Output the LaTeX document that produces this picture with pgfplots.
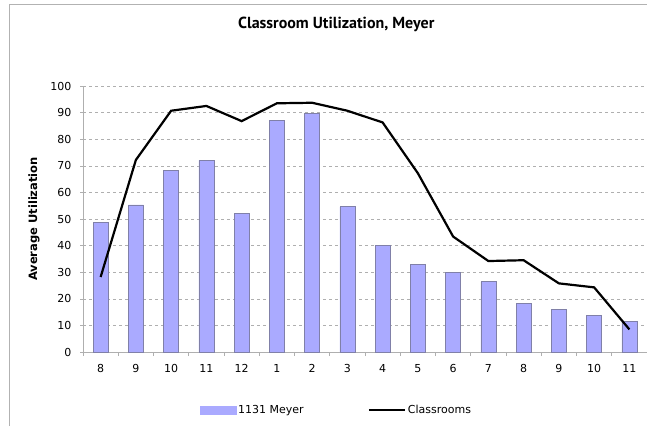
\documentclass[border=0pt]{standalone}
\usepackage{fontspec}
\setmainfont{DejaVu Sans}
\newfontfamily\ptsans{PT Sans}
\usepackage{pgfplots}
\pgfplotsset{compat=1.18}
\definecolor{barfill}{RGB}{170,170,255}
\definecolor{baredge}{RGB}{128,128,168}
\definecolor{gridc}{RGB}{175,175,175}
\begin{document}
\begin{tikzpicture}[x=1pt,y=1pt]
\path[use as bounding box] (0,0) rectangle (647,426);
\draw[gray!60, line width=1pt] (9.5,0) -- (9.5,421) -- (647,421);
\begin{axis}[
  at={(83pt,74pt)}, anchor=south west,
  scale only axis, width=564pt, height=266pt,
  xmin=-0.5, xmax=15.5, ymin=0, ymax=100,
  axis lines*=left,
  axis line style={gridc, line width=0.8pt},
  xtick={0,...,15},
  xticklabels={8,9,10,11,12,1,2,3,4,5,6,7,8,9,10,11},
  minor xtick={-0.5,0.5,...,15.5},
  major x tick style={draw=none},
  ytick={0,10,...,100},
  ymajorgrids,
  grid style={gridc, dash pattern=on 3pt off 3pt, line width=0.6pt},
  tick align=outside, major tick length=3pt, minor tick length=4pt,
  tick style={gridc, line width=0.6pt},
  /pgf/number format/assume math mode=true,
  ticklabel style={font=\fontsize{11}{13}\selectfont},
  x tick label style={yshift=-6pt},
  y tick label style={xshift=-5pt},
  ylabel={Average Utilization},
  ylabel style={at={(axis description cs:-0.0869,0.5)}, anchor=center, font=\bfseries\fontsize{11.5}{14}\selectfont},
  title={Classroom Utilization, Meyer},
  title style={at={(axis description cs:0.449,1.21)}, anchor=center, font=\ptsans\bfseries\fontsize{16}{18}\selectfont},
  legend style={at={(axis description cs:0.449,-0.218)}, anchor=center, draw=none, legend columns=2,
    /tikz/every even column/.append style={column sep=62pt}, font=\fontsize{11}{13}\selectfont,
    inner sep=0pt, nodes={inner sep=2pt}},
]
\addplot[ybar, bar width=15pt, fill=barfill, draw=baredge, line width=0.6pt,
  legend image code/.code={\draw[fill=barfill, draw=barfill] (0pt,-4pt) rectangle (36pt,4pt);}]
  coordinates {(0,48.8) (1,55.3) (2,68.4) (3,72) (4,52.1) (5,87) (6,89.6) (7,54.6)
    (8,40.1) (9,33) (10,29.8) (11,26.4) (12,18.3) (13,15.9) (14,13.8) (15,11.4)};
\addlegendentry{1131 Meyer}
\addplot[black, line width=2.2pt,
  legend image code/.code={\draw[black, line width=2.2pt] (0pt,0pt) -- (36pt,0pt);}]
  coordinates {(0,28.2) (1,72.2) (2,90.7) (3,92.5) (4,86.8) (5,93.5) (6,93.7) (7,90.7)
    (8,86.3) (9,67.2) (10,43.4) (11,34.2) (12,34.5) (13,25.8) (14,24.3) (15,8.5)};
\addlegendentry{Classrooms}
\end{axis}
\end{tikzpicture}
\end{document}
